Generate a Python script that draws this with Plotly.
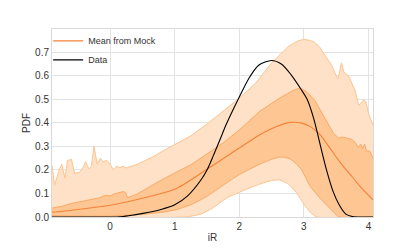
import plotly.graph_objects as go

# ---- data ----
x_outer_hi = [-0.9, -0.86, -0.8, -0.75, -0.7, -0.66, -0.6, -0.55, -0.47, -0.42, -0.38, -0.33, -0.29,
              -0.25, -0.2, -0.15, -0.11, -0.05, 0.0, 0.05, 0.1, 0.15, 0.2, 0.25, 0.3, 0.36, 0.45,
              0.67, 0.8, 1.0, 1.25, 1.5, 1.75, 2.0, 2.25, 2.5, 2.76, 2.9, 3.0, 3.1, 3.17, 3.25,
              3.33, 3.43, 3.5, 3.53, 3.58, 3.62, 3.69, 3.75, 3.79, 3.85, 3.89, 3.92, 3.96, 4.0, 4.07]
outer_hi = [0.22, 0.135, 0.19, 0.225, 0.165, 0.24, 0.245, 0.185, 0.19, 0.21, 0.235, 0.205, 0.215,
            0.30, 0.225, 0.25, 0.235, 0.24, 0.225, 0.2, 0.215, 0.21, 0.215, 0.208, 0.215, 0.218, 0.228,
            0.257, 0.278, 0.307, 0.345, 0.395, 0.45, 0.505, 0.568, 0.655, 0.725, 0.748, 0.755, 0.75, 0.742, 0.72,
            0.685, 0.645, 0.6, 0.588, 0.655, 0.615, 0.6, 0.565, 0.54, 0.475, 0.485, 0.497, 0.49, 0.44, 0.39]

x_outer_lo = [-0.9, 1.15, 1.4, 1.6, 1.8, 2.0, 2.3, 2.5, 2.62, 2.75, 2.88, 3.0, 3.1, 3.2, 4.07]
outer_lo = [0.0, 0.0, 0.012, 0.04, 0.08, 0.105, 0.138, 0.155, 0.157, 0.142, 0.105, 0.055, 0.02, 0.0, 0.0]

x_inner_hi = [-0.9, -0.75, -0.62, -0.5, -0.42, -0.3, -0.16, -0.1, -0.06, 0.0, 0.05, 0.12, 0.2, 0.24,
              0.27, 0.4, 0.67, 0.8, 1.0, 1.25, 1.5, 1.75, 2.0, 2.32, 2.65, 2.85, 2.95, 3.05, 3.17,
              3.28, 3.38, 3.46, 3.54, 3.6, 3.67, 3.74, 3.8, 3.84, 3.88, 3.91, 3.94, 3.97, 4.02, 4.07]
inner_hi = [0.038, 0.045, 0.056, 0.062, 0.069, 0.075, 0.082, 0.09, 0.092, 0.09, 0.097, 0.102, 0.108, 0.104,
            0.082, 0.095, 0.14, 0.158, 0.187, 0.222, 0.268, 0.315, 0.37, 0.45, 0.51, 0.54, 0.548, 0.53, 0.495,
            0.44, 0.39, 0.355, 0.335, 0.34, 0.335, 0.33, 0.315, 0.295, 0.31, 0.29, 0.31, 0.28, 0.28, 0.25]

x_inner_lo = [-0.9, -0.5, 0.0, 0.5, 0.8, 1.0, 1.25, 1.5, 1.75, 2.0, 2.3, 2.5, 2.65, 2.8, 2.95, 3.1,
              3.25, 3.41, 3.55, 4.07]
inner_lo = [0.006, 0.004, 0.004, 0.012, 0.02, 0.03, 0.052, 0.088, 0.135, 0.18, 0.222, 0.245, 0.255,
            0.245, 0.205, 0.13, 0.08, 0.035, 0.0, 0.0]

x_mean = [-0.9, -0.5, 0.0, 0.5, 1.0, 1.5, 2.0, 2.32, 2.58, 2.79, 2.95, 3.1, 3.25, 3.36, 3.5, 3.61,
          3.75, 3.87, 4.07]
mean_mock = [0.02, 0.032, 0.05, 0.08, 0.118, 0.203, 0.293, 0.35, 0.385, 0.402, 0.40, 0.384, 0.35,
             0.31, 0.255, 0.215, 0.17, 0.13, 0.073]

x_data = [-0.9, 0.1, 0.2, 0.4, 0.6, 0.8, 1.0, 1.2, 1.4, 1.5, 1.6, 1.7, 1.8, 2.0, 2.15, 2.3, 2.5, 2.65, 2.8,
          2.95, 3.05, 3.15, 3.25, 3.35, 3.45, 3.55, 3.65, 3.75, 3.9, 4.07]
data_pdf = [0.0, 0.0, 0.002, 0.01, 0.02, 0.033, 0.052, 0.09, 0.155, 0.2, 0.262, 0.328, 0.395, 0.51, 0.59,
            0.645, 0.665, 0.65, 0.605, 0.545, 0.5, 0.42, 0.31, 0.2, 0.11, 0.05, 0.012, 0.002, 0.0, 0.0]

x_ticks = [0, 1, 2, 3, 4]
y_ticks = [0.0, 0.1, 0.2, 0.3, 0.4, 0.5, 0.6, 0.7]

LIGHT_FILL = "#fee1c7"
DARK_FILL = "#fdc692"
LIGHT_EDGE = "#fdc490"
DARK_EDGE = "#fca966"
MEAN_COL = "#f5813a"

fig = go.Figure()
# outer band
fig.add_trace(go.Scatter(x=x_outer_lo, y=outer_lo, mode="lines", line=dict(color=LIGHT_EDGE, width=1, shape="spline", smoothing=0.6),
                         showlegend=False, hoverinfo="skip"))
fig.add_trace(go.Scatter(x=x_outer_hi, y=outer_hi, mode="lines", line=dict(color=LIGHT_EDGE, width=1),
                         fill="tonexty", fillcolor=LIGHT_FILL, showlegend=False, hoverinfo="skip"))
# inner band
fig.add_trace(go.Scatter(x=x_inner_lo, y=inner_lo, mode="lines", line=dict(color=DARK_EDGE, width=1, shape="spline", smoothing=0.6),
                         showlegend=False, hoverinfo="skip"))
fig.add_trace(go.Scatter(x=x_inner_hi, y=inner_hi, mode="lines", line=dict(color=DARK_EDGE, width=1),
                         fill="tonexty", fillcolor=DARK_FILL, showlegend=False, hoverinfo="skip"))
# mean
fig.add_trace(go.Scatter(x=x_mean, y=mean_mock, mode="lines", name="Mean from Mock",
                         line=dict(color=MEAN_COL, width=1.1, shape="spline", smoothing=0.8)))
# data
fig.add_trace(go.Scatter(x=x_data, y=data_pdf, mode="lines", name="Data",
                         line=dict(color="black", width=1.1, shape="spline", smoothing=0.8)))

axis_common = dict(showgrid=True, gridcolor="#e3e3e3", gridwidth=1, zeroline=False,
                   showline=True, linecolor="#d9d9d9", linewidth=1, mirror=True, automargin=False,
                   ticks="", tickfont=dict(family="Liberation Sans, Arial", size=10, color="#333"))

# the page has an 8px body margin, so the figure is 8px smaller and margins shifted
fig.update_layout(
    width=407, height=241,
    margin=dict(l=44, r=42, t=21, b=32, autoexpand=False),
    paper_bgcolor="white", plot_bgcolor="white",
    font=dict(family="Liberation Sans, Arial", size=10, color="#333"),
    xaxis=dict(range=[-0.9, 4.07], tickvals=x_ticks, ticktext=[str(t) for t in x_ticks],
               title=dict(text="iR", standoff=2, font=dict(size=10)), **axis_common),
    yaxis=dict(range=[0, 0.799], tickvals=y_ticks, ticktext=[f"{t:.1f}" for t in y_ticks],
               title=dict(text="PDF", standoff=2, font=dict(size=10)), **axis_common),
    legend=dict(x=-0.012, y=1.014, xanchor="left", yanchor="top", bgcolor="rgba(255,255,255,0)",
                font=dict(size=9, color="#333"), traceorder="normal", tracegroupgap=0),
)

fig.write_html("out.html")
